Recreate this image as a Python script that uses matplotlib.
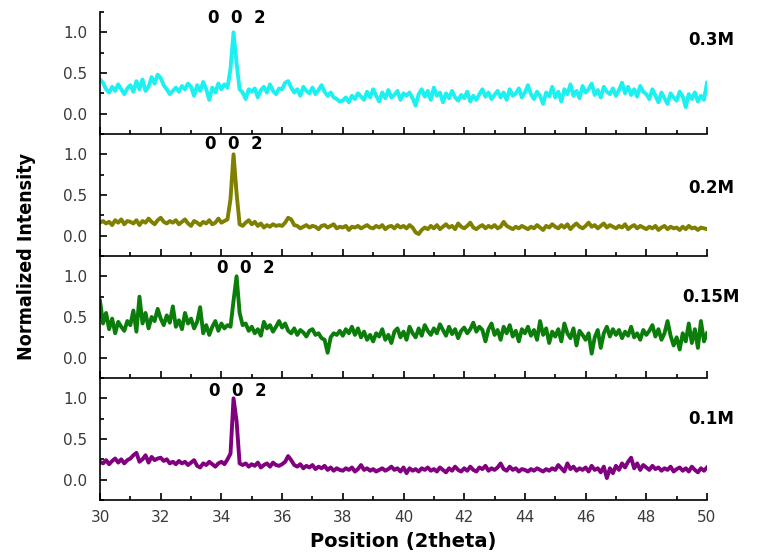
import numpy as np
import matplotlib
matplotlib.use("Agg")
import matplotlib.pyplot as plt
from matplotlib.ticker import MultipleLocator

plt.rcParams['font.family'] = ['DejaVu Sans']

two_theta = np.round(np.linspace(30, 50, 201), 1)

i_03M = [
    0.42, 0.38, 0.30, 0.26, 0.33, 0.28, 0.36, 0.30, 0.24, 0.31,
    0.35, 0.27, 0.40, 0.30, 0.42, 0.28, 0.33, 0.45, 0.37, 0.48,
    0.44, 0.35, 0.30, 0.24, 0.28, 0.32, 0.27, 0.34, 0.30, 0.37,
    0.33, 0.22, 0.35, 0.28, 0.39, 0.30, 0.17, 0.32, 0.26, 0.37,
    0.30, 0.36, 0.32, 0.55, 1.00, 0.62, 0.30, 0.26, 0.18, 0.30,
    0.27, 0.31, 0.20, 0.29, 0.33, 0.26, 0.36, 0.28, 0.24, 0.31,
    0.30, 0.38, 0.40, 0.32, 0.26, 0.30, 0.22, 0.33, 0.28, 0.25,
    0.32, 0.24, 0.29, 0.35, 0.27, 0.22, 0.26, 0.20, 0.18, 0.15,
    0.16, 0.20, 0.14, 0.22, 0.18, 0.25, 0.21, 0.17, 0.27, 0.20,
    0.30, 0.22, 0.15, 0.26, 0.19, 0.29, 0.20, 0.23, 0.28, 0.17,
    0.25, 0.22, 0.26, 0.19, 0.10, 0.24, 0.30, 0.21, 0.28, 0.17,
    0.32, 0.22, 0.26, 0.14, 0.25, 0.19, 0.28, 0.20, 0.16, 0.23,
    0.19, 0.27, 0.15, 0.22, 0.17, 0.24, 0.30, 0.21, 0.26, 0.18,
    0.23, 0.28, 0.20, 0.26, 0.17, 0.30, 0.22, 0.25, 0.31, 0.20,
    0.26, 0.35, 0.24, 0.18, 0.27, 0.22, 0.12, 0.26, 0.21, 0.33,
    0.20, 0.27, 0.15, 0.30, 0.24, 0.36, 0.22, 0.28, 0.19, 0.34,
    0.26, 0.30, 0.37, 0.23, 0.29, 0.20, 0.33, 0.27, 0.24, 0.31,
    0.22, 0.29, 0.38, 0.25, 0.33, 0.23, 0.30, 0.21, 0.34, 0.27,
    0.24, 0.18, 0.30, 0.22, 0.14, 0.26, 0.19, 0.12, 0.25, 0.20,
    0.16, 0.27, 0.21, 0.08, 0.24, 0.18, 0.26, 0.15, 0.22, 0.17,
    0.38,
]

i_02M = [
    0.16, 0.18, 0.15, 0.17, 0.13, 0.19, 0.16, 0.20, 0.14, 0.18,
    0.17, 0.15, 0.19, 0.13, 0.18, 0.16, 0.21, 0.17, 0.14, 0.19,
    0.22, 0.17, 0.15, 0.18, 0.16, 0.19, 0.14, 0.17, 0.20, 0.15,
    0.12, 0.18, 0.16, 0.13, 0.17, 0.15, 0.19, 0.14, 0.16, 0.21,
    0.16, 0.18, 0.20, 0.45, 1.00, 0.52, 0.14, 0.12, 0.16, 0.19,
    0.14, 0.17, 0.12, 0.15, 0.10, 0.13, 0.11, 0.14, 0.12, 0.13,
    0.12, 0.16, 0.22, 0.20, 0.13, 0.12, 0.09, 0.11, 0.13, 0.10,
    0.12, 0.11, 0.08, 0.12, 0.13, 0.10, 0.12, 0.14, 0.09, 0.11,
    0.10, 0.12, 0.07, 0.11, 0.10, 0.12, 0.09, 0.11, 0.13, 0.10,
    0.09, 0.12, 0.10, 0.13, 0.08, 0.11, 0.12, 0.09, 0.13, 0.10,
    0.12, 0.09, 0.13, 0.10, 0.04, 0.02, 0.07, 0.10, 0.08, 0.12,
    0.09, 0.13, 0.08, 0.11, 0.14, 0.10, 0.12, 0.08, 0.15, 0.11,
    0.09, 0.12, 0.16, 0.10, 0.08, 0.11, 0.13, 0.09, 0.12, 0.10,
    0.13, 0.09, 0.11, 0.17, 0.12, 0.10, 0.08, 0.11, 0.09, 0.12,
    0.10, 0.08, 0.11, 0.09, 0.13, 0.10, 0.07, 0.12, 0.10, 0.14,
    0.11, 0.09, 0.13, 0.10, 0.14, 0.08, 0.12, 0.15, 0.11, 0.09,
    0.12, 0.16, 0.11, 0.13, 0.09, 0.12, 0.15, 0.10, 0.13, 0.11,
    0.09, 0.12, 0.10, 0.14, 0.08, 0.11, 0.13, 0.09, 0.12, 0.10,
    0.08, 0.11, 0.09, 0.12, 0.07, 0.10, 0.12, 0.08, 0.11, 0.09,
    0.10, 0.07, 0.11, 0.08, 0.12, 0.09, 0.10, 0.07, 0.10, 0.09,
    0.08,
]

i_015M = [
    0.70, 0.42, 0.55, 0.35, 0.48, 0.30, 0.44, 0.38, 0.33, 0.45,
    0.40, 0.58, 0.32, 0.75, 0.42, 0.55, 0.36, 0.50, 0.45, 0.60,
    0.48, 0.40, 0.52, 0.43, 0.63, 0.38, 0.46, 0.35, 0.55, 0.42,
    0.48, 0.36, 0.44, 0.62, 0.30, 0.40, 0.28, 0.38, 0.45, 0.33,
    0.42, 0.36, 0.40, 0.38, 0.70, 1.00, 0.55, 0.40, 0.42, 0.33,
    0.38, 0.30, 0.35, 0.27, 0.44, 0.36, 0.40, 0.32, 0.38, 0.45,
    0.37, 0.42, 0.33, 0.30, 0.36, 0.28, 0.34, 0.31, 0.26, 0.33,
    0.35, 0.28, 0.30, 0.24, 0.22, 0.06, 0.25, 0.30, 0.28, 0.33,
    0.27, 0.35, 0.30, 0.38, 0.28, 0.36, 0.25, 0.32, 0.22, 0.28,
    0.20, 0.30, 0.26, 0.35, 0.22, 0.28, 0.18, 0.32, 0.36, 0.25,
    0.32, 0.22, 0.38, 0.30, 0.25, 0.36, 0.27, 0.40, 0.33, 0.28,
    0.36, 0.30, 0.41, 0.34, 0.27, 0.38, 0.29, 0.35, 0.24, 0.33,
    0.37, 0.30, 0.35, 0.43, 0.32, 0.38, 0.34, 0.20, 0.35, 0.42,
    0.28, 0.34, 0.22, 0.38, 0.30, 0.40, 0.26, 0.33, 0.20, 0.35,
    0.30, 0.38, 0.27, 0.34, 0.22, 0.45, 0.28, 0.36, 0.18, 0.32,
    0.26, 0.35, 0.20, 0.42, 0.30, 0.24, 0.36, 0.15, 0.33, 0.28,
    0.22, 0.30, 0.05, 0.25, 0.34, 0.12, 0.30, 0.38, 0.26, 0.35,
    0.28, 0.34, 0.24, 0.32, 0.27, 0.38, 0.25, 0.30, 0.22, 0.34,
    0.28, 0.33, 0.40, 0.26, 0.35, 0.22, 0.30, 0.45, 0.27, 0.15,
    0.25, 0.10, 0.30, 0.20, 0.42, 0.18, 0.35, 0.12, 0.45, 0.20,
    0.30,
]

i_01M = [
    0.22, 0.20, 0.24, 0.19, 0.23, 0.26, 0.21, 0.25, 0.20, 0.24,
    0.26, 0.30, 0.33, 0.22, 0.25, 0.30, 0.21, 0.28, 0.24, 0.26,
    0.27, 0.23, 0.25, 0.20, 0.22, 0.19, 0.23, 0.20, 0.22, 0.18,
    0.21, 0.24, 0.17, 0.15, 0.20, 0.18, 0.22, 0.19, 0.16, 0.20,
    0.22, 0.19, 0.25, 0.32, 1.00, 0.72, 0.20, 0.18, 0.20, 0.16,
    0.19, 0.17, 0.21, 0.15, 0.18, 0.20, 0.16, 0.21, 0.18, 0.17,
    0.19, 0.22, 0.29, 0.24, 0.18, 0.16, 0.19, 0.14, 0.17, 0.15,
    0.18, 0.13, 0.16, 0.14, 0.17, 0.12, 0.15, 0.11, 0.14, 0.12,
    0.11, 0.14, 0.12, 0.15, 0.10, 0.13, 0.18, 0.12, 0.14, 0.11,
    0.13, 0.10, 0.12, 0.14, 0.11, 0.13, 0.16, 0.12, 0.14, 0.10,
    0.15, 0.08, 0.14, 0.11, 0.13, 0.10, 0.14, 0.12, 0.15, 0.11,
    0.13, 0.10, 0.15, 0.12, 0.09, 0.14, 0.11, 0.16, 0.12, 0.10,
    0.14, 0.11, 0.16, 0.12, 0.10, 0.15, 0.13, 0.17, 0.11, 0.14,
    0.12, 0.15, 0.20, 0.13, 0.11, 0.16, 0.12, 0.14, 0.10, 0.13,
    0.12, 0.10, 0.13, 0.11, 0.14, 0.12, 0.10, 0.13, 0.11, 0.14,
    0.12, 0.18, 0.14, 0.10, 0.20, 0.13, 0.16, 0.11, 0.14, 0.12,
    0.15, 0.10, 0.17, 0.12, 0.14, 0.09, 0.16, 0.02, 0.14, 0.08,
    0.17, 0.12, 0.20, 0.15, 0.22, 0.27, 0.14, 0.20, 0.12, 0.18,
    0.15, 0.12, 0.17, 0.13, 0.15, 0.11, 0.14, 0.12, 0.16, 0.10,
    0.13, 0.15, 0.11, 0.14, 0.10, 0.16, 0.12, 0.09, 0.14, 0.11,
    0.15,
]

series = [i_03M, i_02M, i_015M, i_01M]
labels = ["0.3M", "0.2M", "0.15M", "0.1M"]
colors = ["#1CF0F0", "#808000", "#0A7D0A", "#800080"]
label_y = [0.90, 0.58, 0.75, 0.75]
peak_label_x = [34.5, 34.4, 34.8, 34.55]
peak_label_y = [1.18, 1.13, 1.10, 1.09]
peak_label = "0  0  2"
x_ticks = [30, 32, 34, 36, 38, 40, 42, 44, 46, 48, 50]
y_ticks = [0.0, 0.5, 1.0]

fig = plt.figure(figsize=(7.58, 5.52), dpi=100)
left, right = 100 / 758, 707 / 758
top, bottom = 1 - 12 / 552, 1 - 500 / 552
h = (top - bottom) / 4

axes = []
for k in range(4):
    ax = fig.add_axes([left, top - (k + 1) * h, right - left, h])
    axes.append(ax)
    ax.plot(two_theta, series[k], color=colors[k], lw=2.8, solid_joinstyle='round')
    ax.set_xlim(30, 50)
    ax.set_ylim(-0.25, 1.25)
    ax.spines['top'].set_visible(False)
    ax.spines['right'].set_visible(False)
    ax.spines['left'].set_linewidth(1.2)
    ax.spines['bottom'].set_linewidth(1.2)
    ax.set_xticks(x_ticks)
    ax.xaxis.set_minor_locator(MultipleLocator(1))
    ax.set_yticks(y_ticks)
    ax.set_yticklabels(["0.0", "0.5", "1.0"])
    ax.yaxis.set_minor_locator(MultipleLocator(0.25))
    ax.tick_params(which='major', direction='in', length=5, width=1.2,
                   labelsize=11, labelcolor='#3a3a3a')
    ax.tick_params(axis='y', which='major', pad=9)
    ax.tick_params(axis='x', which='major', pad=7)
    ax.tick_params(which='minor', direction='in', length=3, width=1.2)
    if k < 3:
        ax.tick_params(axis='x', labelbottom=False)
    ax.patch.set_alpha(0)
    ax.text(1.007, label_y[k], labels[k], transform=ax.get_yaxis_transform(),
            ha='center', va='center', fontsize=12, fontweight='bold', clip_on=False)
    ax.text(peak_label_x[k], peak_label_y[k], peak_label, ha='center', va='center',
            fontsize=12, fontweight='bold', clip_on=False)

axes[-1].set_xlabel("Position (2theta)", fontsize=14, fontweight='bold', labelpad=5)
fig.text(27 / 758, 1 - 257 / 552, "Normalized Intensity", rotation=90,
         ha='center', va='center', fontsize=14, fontweight='bold',
         family=['DejaVu Sans Condensed', 'Liberation Sans Narrow', 'DejaVu Sans'],
         fontstretch='condensed')

fig.savefig("out.png", dpi=100)
